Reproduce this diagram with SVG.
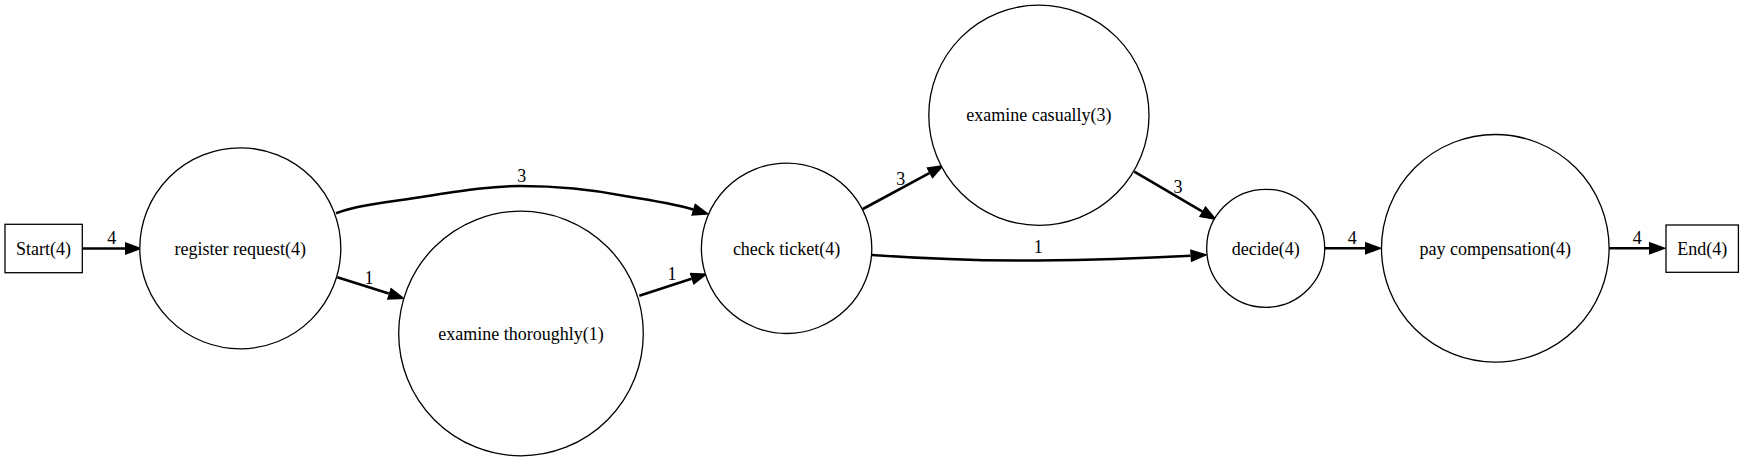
<svg xmlns="http://www.w3.org/2000/svg" width="1743" height="462" viewBox="0 0 1743 462">
<style>
.node{fill:#fff;stroke:#000;stroke-width:1.3}
.lbl{font-family:"Liberation Serif","Times New Roman",serif;font-size:18px;fill:#000;text-anchor:middle}
.edge{fill:none;stroke:#000;stroke-width:2.6}
</style>
<defs>
<marker id="arr" markerUnits="userSpaceOnUse" markerWidth="18" markerHeight="13" viewBox="0 0 17 12.6" refX="0" refY="6.3" orient="auto">
<path d="M0,0 L17,6.3 L0,12.6 z" fill="#000"/>
</marker>
</defs>
<rect width="1743" height="462" fill="#fff"/>
<g id="connectors">
<g id="e-start-reg"><path class="edge" d="M82.5,248.5 L125,248.5" marker-end="url(#arr)"/><text class="lbl" x="111.7" y="243.5">4</text></g>
<g id="e-reg-exthor"><path class="edge" d="M337.3,277.3 L388.8,293.6" marker-end="url(#arr)"/><text class="lbl" x="369" y="284">1</text></g>
<g id="e-reg-check"><path class="edge" d="M336,213.3 C350,208 365,205 387,202 C440,195 480,186 520,186 C560,186 600,191 625,196 C650,200 675,204 693,209.4" marker-end="url(#arr)"/><text class="lbl" x="521.7" y="182">3</text></g>
<g id="e-exthor-check"><path class="edge" d="M639.3,295.7 L691.5,278.8" marker-end="url(#arr)"/><text class="lbl" x="672" y="280">1</text></g>
<g id="e-check-excas"><path class="edge" d="M862.9,209 L929.3,173.1" marker-end="url(#arr)"/><text class="lbl" x="900.7" y="185">3</text></g>
<g id="e-excas-decide"><path class="edge" d="M1134.3,171.7 L1202.1,211.4" marker-end="url(#arr)"/><text class="lbl" x="1177.9" y="192.5">3</text></g>
<g id="e-check-decide"><path class="edge" d="M871.8,255 C915,258 980,261 1037,260.5 C1100,260 1150,258 1190.5,255.8" marker-end="url(#arr)"/><text class="lbl" x="1038.2" y="252.5">1</text></g>
<g id="e-decide-pay"><path class="edge" d="M1324.7,248.3 L1365,248.3" marker-end="url(#arr)"/><text class="lbl" x="1352.3" y="244">4</text></g>
<g id="e-pay-end"><path class="edge" d="M1609,248.3 L1649,248.3" marker-end="url(#arr)"/><text class="lbl" x="1637.3" y="244">4</text></g>
</g>
<g id="start"><rect class="node" x="5" y="224.3" width="77.3" height="48.4"/><text class="lbl" x="43.6" y="254.8">Start(4)</text></g>
<g id="register"><circle class="node" cx="240.3" cy="248.3" r="100.5"/><text class="lbl" x="240.3" y="254.5">register request(4)</text></g>
<g id="exthor"><circle class="node" cx="521" cy="333.5" r="122.3"/><text class="lbl" x="521" y="339.5">examine thoroughly(1)</text></g>
<g id="check"><circle class="node" cx="786.6" cy="248.3" r="85.2"/><text class="lbl" x="786.6" y="254.5">check ticket(4)</text></g>
<g id="excas"><circle class="node" cx="1038.9" cy="115.2" r="110.1"/><text class="lbl" x="1038.9" y="121">examine casually(3)</text></g>
<g id="decide"><circle class="node" cx="1265.7" cy="248.3" r="59"/><text class="lbl" x="1265.7" y="254.5">decide(4)</text></g>
<g id="pay"><circle class="node" cx="1495.3" cy="248.3" r="113.8"/><text class="lbl" x="1495.3" y="254.5">pay compensation(4)</text></g>
<g id="end"><rect class="node" x="1666" y="225" width="72.4" height="47.3"/><text class="lbl" x="1702.2" y="254.5">End(4)</text></g>
</svg>
